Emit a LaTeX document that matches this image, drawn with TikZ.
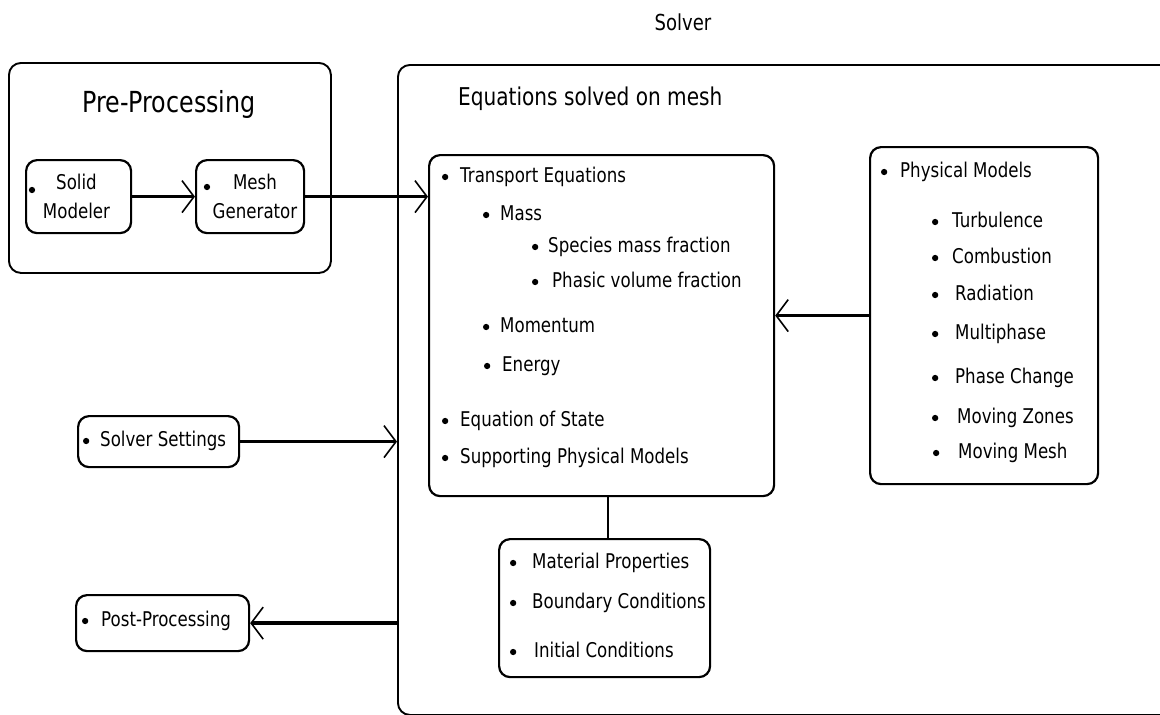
\documentclass[tikz,border=0pt]{standalone}
\usepackage{fontspec}
\setmainfont{DejaVu Sans}[FakeStretch=0.82]
\usetikzlibrary{arrows.meta}
\newcommand\bodyfont{\fontsize{20.3}{29}\selectfont}
\begin{document}
\begin{tikzpicture}[x=1pt,y=-1pt,
  box/.style={draw, line width=2.2pt, rounded corners=11pt, inner sep=0pt, anchor=north west},
  dot/.style={circle, fill, inner sep=0pt, minimum size=6.3pt},
  itm/.style={anchor=west, inner sep=0pt, text height=14pt, text depth=4pt,
              font=\bodyfont, label={[dot, xshift=-#1]west:{}}},
  itm/.default=11pt,
  txt/.style={inner sep=0pt, font=\bodyfont, align=center},
  arr/.style={line width=3.3pt, -{Straight Barb[length=12pt, width=32pt, line width=1.6pt]}},
  link/.style={line width=2pt},
]
\useasboundingbox (0,0) rectangle (1160,715);
\clip (0,0) rectangle (1160,715);

% ---------- frames ----------
\node[box, line width=1.9pt, rounded corners=12pt, minimum width=322pt, minimum height=210pt] (pre) at (8,62) {};
\node[box, line width=1.9pt, rounded corners=12pt, minimum width=790pt, minimum height=650pt] (solver) at (397,64) {};

% ---------- titles ----------
\node[inner sep=0pt, font=\fontsize{29}{33}\selectfont] (pretitle) at (169,104) {Pre-Processing};
\node[inner sep=0pt, font=\fontsize{22}{26}\selectfont] (solvertitle) at (683,22) {Solver};
\node[inner sep=0pt, anchor=west, font=\fontsize{24.5}{29}\selectfont] (eqtitle) at (458,99) {Equations solved on mesh};

% ---------- pre-processing ----------
\node[box, minimum width=105pt, minimum height=73pt] (sm) at (25,159) {};
\node[txt] (smt) at (76.5,196) {Solid\\Modeler};
\node[dot] (smb) at (32,190) {};

\node[box, minimum width=108pt, minimum height=73pt] (mg) at (195,159) {};
\node[txt] (mgt) at (255,196) {Mesh\\Generator};
\node[dot] (mgb) at (207,187) {};

% ---------- transport equations ----------
\node[box, minimum width=345pt, minimum height=341pt] (tr) at (428,154) {};
\node[itm=11.5pt] (t1) at (460,177) {Transport Equations};
\node[itm=10.5pt] (t2) at (500,215) {Mass};
\node[itm=9.5pt]  (t3) at (548,247) {Species mass fraction};
\node[itm=13.5pt] (t4) at (552,282) {Phasic volume fraction};
\node[itm=10.5pt] (t5) at (500,327) {Momentum};
\node[itm=11.5pt] (t6) at (502,366) {Energy};
\node[itm=11.5pt] (t7) at (460,421) {Equation of State};
\node[itm=11.5pt] (t8) at (460,458) {Supporting Physical Models};

% ---------- physical models ----------
\node[box, minimum width=228pt, minimum height=337pt] (pm) at (869,146) {};
\node[itm=12.5pt] (p0) at (900,172) {Physical Models};
\node[itm=13.5pt] (p1) at (952,222) {Turbulence};
\node[itm=13.5pt] (p2) at (952,258) {Combustion};
\node[itm=16.5pt] (p3) at (955,295) {Radiation};
\node[itm=16.5pt] (p4) at (955,334) {Multiphase};
\node[itm=16.5pt] (p5) at (955,378) {Phase Change};
\node[itm=18.5pt] (p6) at (957,418) {Moving Zones};
\node[itm=18.5pt] (p7) at (958,453) {Moving Mesh};

% ---------- material / boundary / initial ----------
\node[box, minimum width=211pt, minimum height=138pt] (mat) at (498,538) {};
\node[itm=15.5pt] (m1) at (532,563) {Material Properties};
\node[itm=15.5pt] (m2) at (532,603) {Boundary Conditions};
\node[itm=17.5pt] (m3) at (534,652) {Initial Conditions};

% ---------- solver settings / post-processing ----------
\node[box, minimum width=161pt, minimum height=51pt] (ss) at (77,415) {};
\node[itm=10.5pt] (sst) at (100,441) {Solver Settings};
\node[box, minimum width=173pt, minimum height=56pt] (pp) at (75,594) {};
\node[itm=12.5pt] (ppt) at (101,621) {Post-Processing};

% ---------- connectors ----------
\draw[arr] (sm.east) -- (mg.west);
\draw[arr] (mg.east) -- (mg.east -| tr.west);
\draw[arr] (pm.west) -- (pm.west -| tr.east);
\draw[arr] (ss.east) -- (ss.east -| solver.west);
\draw[arr] (pp.east -| solver.west) -- (pp.east);
\draw[link] ([xshift=3.5pt]mat.north) -- ([xshift=3.5pt]mat.north |- tr.south);
\end{tikzpicture}
\end{document}
